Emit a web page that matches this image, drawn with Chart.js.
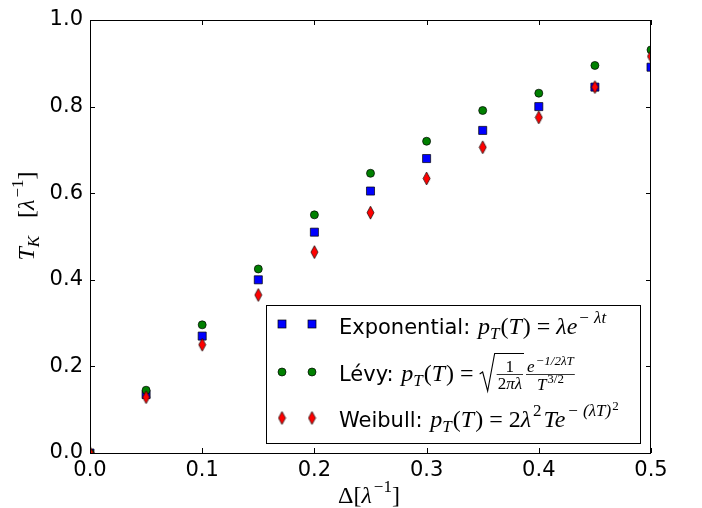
<!DOCTYPE html>
<html>
<head>
<meta charset="utf-8">
<script src="https://cdn.jsdelivr.net/npm/chart.js@4/dist/chart.umd.min.js"></script>
<style>
  html, body { margin: 0; padding: 0; background: #fff; }
  canvas { display: block; }
</style>
</head>
<body>
<canvas id="tkChart" width="702" height="508"></canvas>
<script>
// data
const deltas = [0.0, 0.05, 0.10, 0.15, 0.20, 0.25, 0.30, 0.35, 0.40, 0.45, 0.50];
const expValues = [0.0, 0.135, 0.270, 0.400, 0.510, 0.605, 0.680, 0.745, 0.800, 0.845, 0.891];
const levyValues = [0.0, 0.145, 0.296, 0.425, 0.550, 0.646, 0.720, 0.791, 0.831, 0.895, 0.931];
const weibullValues = [0.0, 0.129, 0.250, 0.365, 0.464, 0.555, 0.634, 0.706, 0.775, 0.845, 0.916];
const xTicks = [0.0, 0.1, 0.2, 0.3, 0.4, 0.5];
const yTicks = [0.0, 0.2, 0.4, 0.6, 0.8, 1.0];

const SANS = '"DejaVu Sans", sans-serif';
const SERIF = '"Liberation Serif", "DejaVu Serif", serif';

function toPoints(ys) {
    return deltas.map((x, i) => ({ x: x, y: ys[i] }));
}

// matplotlib style thin diamond marker
function thinDiamond(w, h) {
    const c = document.createElement('canvas');
    c.width = w + 2;
    c.height = h + 2;
    const g = c.getContext('2d');
    const cx = c.width / 2, cy = c.height / 2;
    g.beginPath();
    g.moveTo(cx, cy - h / 2);
    g.lineTo(cx + w / 2, cy);
    g.lineTo(cx, cy + h / 2);
    g.lineTo(cx - w / 2, cy);
    g.closePath();
    g.fillStyle = '#ff0000';
    g.fill();
    g.lineWidth = 0.7;
    g.strokeStyle = '#000';
    g.stroke();
    return c;
}
const diamondImg = thinDiamond(7, 13);

// draw a list of text runs, returns end x
function runs(ctx, x, y, items) {
    for (const it of items) {
        ctx.font = it.f;
        ctx.fillText(it.t, x, y + (it.dy || 0));
        x += ctx.measureText(it.t).width + (it.k || 0);
    }
    return x;
}
function runsWidth(ctx, items) {
    let w = 0;
    for (const it of items) {
        ctx.font = it.f;
        w += ctx.measureText(it.t).width + (it.k || 0);
    }
    return w;
}

const F = {
    text: '21px ' + SANS,
    it: 'italic 24px ' + SERIF,
    rm: '24px ' + SERIF,
    itS: 'italic 17px ' + SERIF,
    rmS: '17px ' + SERIF,
    itF: 'italic 17px ' + SERIF,
    rmF: '17px ' + SERIF,
    itXS: 'italic 13px ' + SERIF,
    rmXS: '13px ' + SERIF
};

function pT() {
    return [
        { t: 'p', f: F.it },
        { t: 'T', f: F.itS, dy: 5, k: 1 },
        { t: '(', f: F.rm },
        { t: 'T', f: F.it, k: 1 },
        { t: ')', f: F.rm },
        { t: ' = ', f: F.rm }
    ];
}

function drawMarker(ctx, kind, x, y) {
    ctx.save();
    ctx.lineWidth = 0.7;
    ctx.strokeStyle = '#000';
    if (kind === 'square') {
        ctx.fillStyle = '#0000ff';
        ctx.fillRect(x - 4, y - 4, 8, 8);
        ctx.strokeRect(x - 4, y - 4, 8, 8);
    } else if (kind === 'circle') {
        ctx.fillStyle = '#008000';
        ctx.beginPath();
        ctx.arc(x, y, 4, 0, Math.PI * 2);
        ctx.fill();
        ctx.stroke();
    } else {
        ctx.drawImage(diamondImg, x - diamondImg.width / 2, y - diamondImg.height / 2);
    }
    ctx.restore();
}

const framePlugin = {
    id: 'framePlugin',
    afterDatasetsDraw(chart) {
        const ctx = chart.ctx;
        const a = chart.chartArea;
        const xs = chart.scales.x, ys = chart.scales.y;
        ctx.save();
        ctx.strokeStyle = '#000';
        ctx.lineWidth = 1;
        // inward ticks on all four sides
        ctx.beginPath();
        xTicks.forEach(v => {
            const px = Math.round(xs.getPixelForValue(v)) + 0.5;
            ctx.moveTo(px, a.bottom); ctx.lineTo(px, a.bottom - 5);
            ctx.moveTo(px, a.top); ctx.lineTo(px, a.top + 5);
        });
        yTicks.forEach(v => {
            const py = Math.round(ys.getPixelForValue(v)) + 0.5;
            ctx.moveTo(a.left, py); ctx.lineTo(a.left + 5, py);
            ctx.moveTo(a.right, py); ctx.lineTo(a.right - 5, py);
        });
        ctx.stroke();
        ctx.strokeRect(a.left + 0.5, a.top + 0.5, a.right - a.left - 1, a.bottom - a.top);

        // legend
        const lx = 266, ly = 305, lw = 374, lh = 138;
        ctx.fillStyle = '#fff';
        ctx.fillRect(lx, ly, lw, lh);
        ctx.strokeRect(lx + 0.5, ly + 0.5, lw, lh);
        const rows = [
            { kind: 'square', y: 324 },
            { kind: 'circle', y: 372 },
            { kind: 'diamond', y: 418 }
        ];
        rows.forEach(r => {
            drawMarker(ctx, r.kind, 282, r.y);
            drawMarker(ctx, r.kind, 312, r.y);
        });
        ctx.fillStyle = '#000';
        ctx.textAlign = 'left';
        ctx.textBaseline = 'alphabetic';
        const tx = 339;

        // Exponential row
        runs(ctx, tx, 334, [{ t: 'Exponential: ', f: F.text, k: 1 }].concat(pT(), [
            { t: 'λ', f: F.it },
            { t: 'e', f: F.it, k: 1 },
            { t: '− λt', f: F.itS, dy: -11 }
        ]));

        // Lévy row
        let x = runs(ctx, tx, 381, [{ t: 'Lévy: ', f: F.text, k: 1 }].concat(pT()));
        const num1 = [{ t: '1', f: F.rmF }];
        const den1 = [{ t: '2', f: F.rmF }, { t: 'πλ', f: F.itF }];
        const w1 = Math.max(runsWidth(ctx, num1), runsWidth(ctx, den1)) + 2;
        const num2 = [{ t: 'e', f: F.itF, k: 1 }, { t: '−1/2λT', f: F.itXS, dy: -7 }];
        const den2 = [{ t: 'T', f: F.itF, k: 1 }, { t: '3/2', f: F.rmXS, dy: -7 }];
        const w2 = Math.max(runsWidth(ctx, num2), runsWidth(ctx, den2)) + 2;
        const bar = 374.5;
        // radical sign
        ctx.lineWidth = 1.1;
        ctx.beginPath();
        ctx.moveTo(x, 374);
        ctx.lineTo(x + 3, 372);
        ctx.lineTo(x + 8, 391);
        ctx.lineTo(x + 15, 353.5);
        ctx.lineTo(x + 17 + w1 + 1, 353.5);
        ctx.stroke();
        x += 17;
        ctx.lineWidth = 0.8;
        ctx.beginPath();
        ctx.moveTo(x, bar); ctx.lineTo(x + w1, bar);
        ctx.stroke();
        runs(ctx, x + (w1 - runsWidth(ctx, num1)) / 2, bar - 3, num1);
        runs(ctx, x + (w1 - runsWidth(ctx, den1)) / 2, bar + 14, den1);
        x += w1 + 3;
        ctx.beginPath();
        ctx.moveTo(x, bar); ctx.lineTo(x + w2, bar);
        ctx.stroke();
        runs(ctx, x + (w2 - runsWidth(ctx, num2)) / 2, bar - 3, num2);
        runs(ctx, x + (w2 - runsWidth(ctx, den2)) / 2, bar + 15, den2);

        // Weibull row
        runs(ctx, tx, 427, [{ t: 'Weibull: ', f: F.text, k: 1 }].concat(pT(), [
            { t: '2', f: F.rm },
            { t: 'λ', f: F.it, k: 2 },
            { t: '2', f: F.rmS, dy: -11, k: 2 },
            { t: 'Te', f: F.it, k: 2 },
            { t: '− (λT)', f: F.itS, dy: -11, k: 1 },
            { t: '2', f: F.rmXS, dy: -17 }
        ]));

        // axis titles
        const xTitle = [
            { t: 'Δ', f: F.rm },
            { t: '[', f: F.rm },
            { t: 'λ', f: F.it, k: 2 },
            { t: '−1', f: F.rmS, dy: -11 },
            { t: ']', f: F.rm }
        ];
        runs(ctx, 369 - runsWidth(ctx, xTitle) / 2, 503, xTitle);

        const yTitle = [
            { t: 'T', f: F.it },
            { t: 'K', f: F.itS, dy: 5 },
            { t: '   [', f: F.rm },
            { t: 'λ', f: F.it, k: 2 },
            { t: '−1', f: F.rmS, dy: -11 },
            { t: ']', f: F.rm }
        ];
        ctx.translate(34, 216);
        ctx.rotate(-Math.PI / 2);
        runs(ctx, -runsWidth(ctx, yTitle) / 2, 0, yTitle);
        ctx.restore();
    }
};

new Chart(document.getElementById('tkChart').getContext('2d'), {
    type: 'scatter',
    data: {
        datasets: [
            {
                label: 'Exponential',
                data: toPoints(expValues),
                pointStyle: 'rect',
                pointRadius: 5.7,
                backgroundColor: '#0000ff',
                borderColor: '#000',
                borderWidth: 0.7,
                order: 3
            },
            {
                label: 'Lévy',
                data: toPoints(levyValues),
                pointStyle: 'circle',
                pointRadius: 4,
                backgroundColor: '#008000',
                borderColor: '#000',
                borderWidth: 0.7,
                order: 2
            },
            {
                label: 'Weibull',
                data: toPoints(weibullValues),
                pointStyle: diamondImg,
                pointRadius: 6,
                backgroundColor: '#ff0000',
                borderColor: '#000',
                borderWidth: 0.7,
                order: 1
            }
        ]
    },
    options: {
        responsive: false,
        animation: false,
        events: [],
        layout: {
            padding: { top: 20, right: 51, left: 0, bottom: 0 }
        },
        plugins: {
            legend: { display: false },
            tooltip: { enabled: false }
        },
        scales: {
            x: {
                type: 'linear',
                min: 0,
                max: 0.5,
                grid: { display: false, drawTicks: false },
                border: { display: false },
                afterFit: function(scale) { scale.height = 55; },
                afterBuildTicks: function(scale) {
                    scale.ticks = xTicks.map(v => ({ value: v }));
                },
                ticks: {
                    color: '#000',
                    padding: 5,
                    maxRotation: 0,
                    font: { family: SANS, size: 21 },
                    callback: v => v.toFixed(1)
                }
            },
            y: {
                type: 'linear',
                min: 0,
                max: 1.0,
                grid: { display: false, drawTicks: false },
                border: { display: false },
                afterFit: function(scale) { scale.width = 90; },
                afterBuildTicks: function(scale) {
                    scale.ticks = yTicks.map(v => ({ value: v }));
                },
                ticks: {
                    color: '#000',
                    padding: 7,
                    font: { family: SANS, size: 21 },
                    callback: v => v.toFixed(1)
                }
            }
        }
    },
    plugins: [framePlugin]
});
</script>
</body>
</html>
